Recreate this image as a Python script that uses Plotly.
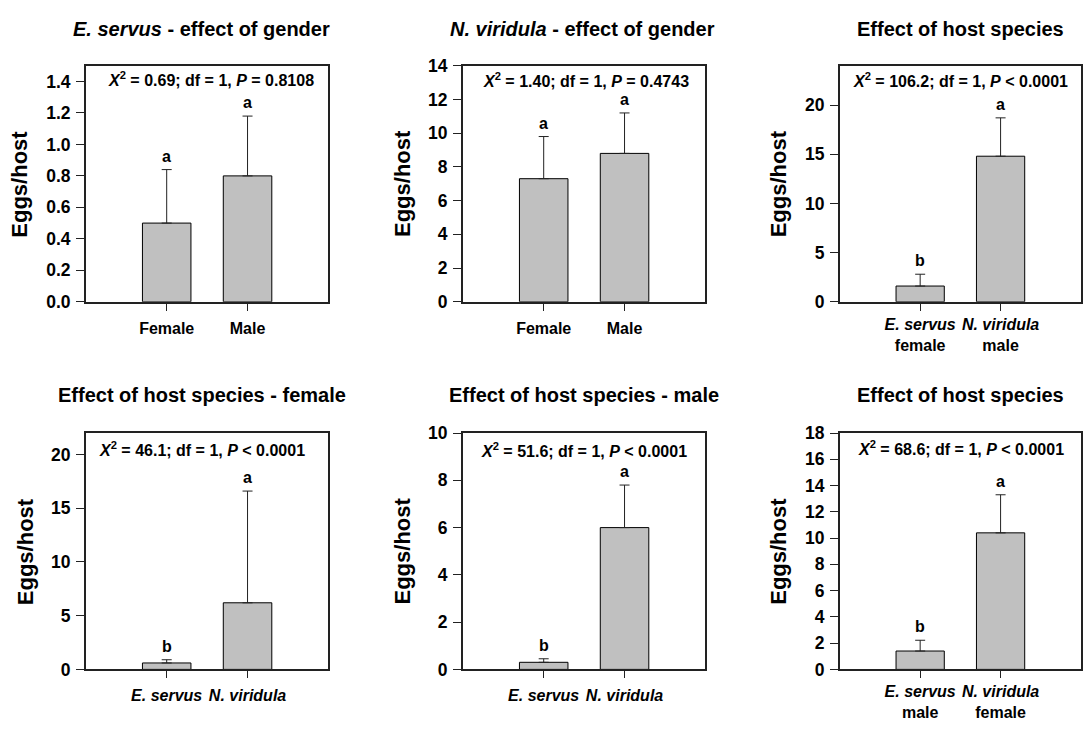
import plotly.graph_objects as go

W, H = 1083, 729
FONT = "Arial, 'Liberation Sans', sans-serif"

# ---------------- data ----------------
p1_cats = ["Female", "Male"]
p1_means = [0.5, 0.8]
p1_err = [0.34, 0.38]
p1_letters = ["a", "a"]

p2_cats = ["Female", "Male"]
p2_means = [7.3, 8.8]
p2_err = [2.5, 2.4]
p2_letters = ["a", "a"]

p3_cats = ["E. servus female", "N. viridula male"]
p3_ticktext = ["<i>E. servus</i><br>female", "<i>N. viridula</i><br>male"]
p3_means = [1.6, 14.8]
p3_err = [1.2, 3.9]
p3_letters = ["b", "a"]

p4_cats = ["E. servus", "N. viridula"]
p4_ticktext = ["<i>E. servus</i>", "<i>N. viridula</i>"]
p4_means = [0.6, 6.2]
p4_err = [0.3, 10.4]
p4_letters = ["b", "a"]

p5_cats = ["E. servus", "N. viridula"]
p5_ticktext = ["<i>E. servus</i>", "<i>N. viridula</i>"]
p5_means = [0.3, 6.0]
p5_err = [0.15, 1.8]
p5_letters = ["b", "a"]

p6_cats = ["E. servus male", "N. viridula female"]
p6_ticktext = ["<i>E. servus</i><br>male", "<i>N. viridula</i><br>female"]
p6_means = [1.4, 10.4]
p6_err = [0.82, 2.9]
p6_letters = ["b", "a"]

titles = [
    "<i>E. servus</i> - effect of gender",
    "<i>N. viridula</i> - effect of gender",
    "Effect of host species",
    "Effect of host species - female",
    "Effect of host species - male",
    "Effect of host species",
]
stats = [
    "<i>X</i><sup>2</sup> = 0.69; df = 1, <i>P</i> = 0.8108",
    "<i>X</i><sup>2</sup> = 1.40; df = 1, <i>P</i> = 0.4743",
    "<i>X</i><sup>2</sup> = 106.2; df = 1, <i>P</i> < 0.0001",
    "<i>X</i><sup>2</sup> = 46.1; df = 1, <i>P</i> < 0.0001",
    "<i>X</i><sup>2</sup> = 51.6; df = 1, <i>P</i> < 0.0001",
    "<i>X</i><sup>2</sup> = 68.6; df = 1, <i>P</i> < 0.0001",
]
y_title = "Eggs/host"

panels = [
    dict(cats=p1_cats, tt=p1_cats, m=p1_means, e=p1_err, l=p1_letters,
         yr=[0, 1.5], tv=[0, 0.2, 0.4, 0.6, 0.8, 1.0, 1.2, 1.4], fmt=".1f"),
    dict(cats=p2_cats, tt=p2_cats, m=p2_means, e=p2_err, l=p2_letters,
         yr=[0, 14], tv=[0, 2, 4, 6, 8, 10, 12, 14], fmt="d"),
    dict(cats=p3_cats, tt=p3_ticktext, m=p3_means, e=p3_err, l=p3_letters,
         yr=[0, 24], tv=[0, 5, 10, 15, 20], fmt="d"),
    dict(cats=p4_cats, tt=p4_ticktext, m=p4_means, e=p4_err, l=p4_letters,
         yr=[0, 22], tv=[0, 5, 10, 15, 20], fmt="d"),
    dict(cats=p5_cats, tt=p5_ticktext, m=p5_means, e=p5_err, l=p5_letters,
         yr=[0, 10], tv=[0, 2, 4, 6, 8, 10], fmt="d"),
    dict(cats=p6_cats, tt=p6_ticktext, m=p6_means, e=p6_err, l=p6_letters,
         yr=[0, 18], tv=[0, 2, 4, 6, 8, 10, 12, 14, 16, 18], fmt="d"),
]

# ---------------- layout geometry (pixels) ----------------
col_px = [(86, 329), (463.7, 706.7), (841.3, 1083)]
row_px = [(57.3, 300), (435, 678)]
title_x = [202, 584, 962, 202, 585, 962]
title_y = [20, 20, 20, 396, 396, 396]
stat_x = [211, 587, 962.5, 202.5, 585.3, 962.5]
stat_y = [71, 72, 72, 451.5, 452, 450]
ytitle_x = [20, 403, 780, 25, 403, 780]
xlabel_standoff = [4, 4, 0, 4, 4, 0]


def px_x(v):
    return v / W


def px_y(v):
    return 1 - v / H


fig = go.Figure()
layout = dict(
    width=W, height=H, autosize=False,
    margin=dict(l=0, r=0, t=0, b=0),
    paper_bgcolor="white", plot_bgcolor="white",
    showlegend=False, bargap=0.4,
    font=dict(family=FONT, size=16, color="black", weight="bold"),
)
annotations = []

for i, p in enumerate(panels):
    r, c = divmod(i, 3)
    n = "" if i == 0 else str(i + 1)
    xa, ya = "x" + n, "y" + n
    fig.add_trace(go.Bar(
        x=p["cats"], y=p["m"], xaxis=xa, yaxis=ya, width=0.6,
        marker=dict(color="#c0c0c0", line=dict(color="black", width=1)),
        error_y=dict(type="data", array=p["e"], arrayminus=[0] * len(p["e"]),
                     symmetric=False, color="#222222", thickness=1, width=5),
        hoverinfo="skip",
    ))
    x0, x1 = col_px[c]
    y0, y1 = row_px[r]
    layout["xaxis" + n] = dict(
        domain=[px_x(x0), px_x(x1)], anchor=ya,
        type="category", range=[-1, 2],
        tickmode="array", tickvals=p["cats"], ticktext=p["tt"],
        ticks="outside", ticklen=7, tickcolor="#222222", tickwidth=1,
        showline=True, linecolor="#222222", linewidth=1.5, mirror=True,
        showgrid=False, zeroline=False, fixedrange=True,
        tickfont=dict(family=FONT, size=16, color="black", weight="bold"),
        ticklabelstandoff=xlabel_standoff[i],
    )
    layout["yaxis" + n] = dict(
        domain=[px_y(y1), px_y(y0)], anchor=xa,
        range=p["yr"], tickmode="array", tickvals=p["tv"], tickformat=p["fmt"],
        ticks="outside", ticklen=8, tickcolor="#222222", tickwidth=1,
        showline=True, linecolor="#222222", linewidth=1.5, mirror=True,
        showgrid=False, zeroline=False, fixedrange=True,
        tickfont=dict(family=FONT, size=17.5, color="black", weight="bold"),
        ticklabelstandoff=2,
    )
    # title
    annotations.append(dict(
        text=titles[i], xref="paper", yref="paper",
        x=px_x(title_x[i]), y=px_y(title_y[i]), xanchor="center", yanchor="middle",
        showarrow=False, font=dict(family=FONT, size=20, color="black", weight="bold"),
    ))
    # statistics
    annotations.append(dict(
        text=stats[i], xref="paper", yref="paper",
        x=px_x(stat_x[i]), y=px_y(stat_y[i]), xanchor="center", yanchor="middle",
        showarrow=False, font=dict(family=FONT, size=16, color="black", weight="bold"),
    ))
    # y-axis title
    annotations.append(dict(
        text=y_title, xref="paper", yref="paper", textangle=-90,
        x=px_x(ytitle_x[i]), y=px_y((y0 + y1) / 2), xanchor="center", yanchor="middle",
        showarrow=False, font=dict(family=FONT, size=22, color="black", weight="bold"),
    ))
    # significance letters
    for cat, m, e, letter in zip(p["cats"], p["m"], p["e"], p["l"]):
        annotations.append(dict(
            text=letter, xref=xa, yref=ya, x=cat, y=m + e,
            xanchor="center", yanchor="bottom", yshift=3, showarrow=False,
            font=dict(family=FONT, size=16, color="black", weight="bold"),
        ))

layout["annotations"] = annotations
fig.update_layout(**layout)
fig.write_html("out.html")
